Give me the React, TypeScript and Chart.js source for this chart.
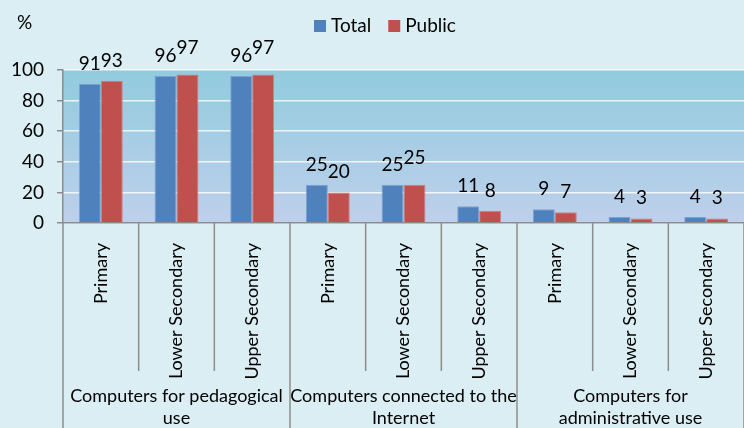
import React, { useEffect, useRef } from "react";
import { Chart, registerables } from "chart.js";

Chart.register(...registerables);

const levelLabels = [
  "Primary", "Lower Secondary", "Upper Secondary",
  "Primary", "Lower Secondary", "Upper Secondary",
  "Primary", "Lower Secondary", "Upper Secondary",
];
const groupLabels = [
  ["Computers for pedagogical", "use"],
  ["Computers connected to the", "Internet"],
  ["Computers for", "administrative use"],
];
const seriesNames = ["Total", "Public"];
const totalValues = [91, 96, 96, 25, 25, 11, 9, 4, 4];
const publicValues = [93, 97, 97, 20, 25, 8, 7, 3, 3];
const yMin = 0;
const yMax = 100;
const yStep = 20;
const unitLabel = "%";

const FONT = "Lato";
const BG = "#DBEEF4";
const AXIS = "#8C8C8C";
const COLORS = ["#4F81BD", "#C0504D"];
const BORDERS = ["#7EA2CF", "#D27D7B"];

const decorPlugin = {
  id: "decor",
  beforeDraw(chart: any) {
    const { ctx, chartArea } = chart;
    ctx.save();
    ctx.fillStyle = BG;
    ctx.fillRect(0, 0, chart.width, chart.height);
    const g = ctx.createLinearGradient(0, chartArea.top, 0, chartArea.bottom);
    g.addColorStop(0, "#92CBDE");
    g.addColorStop(1, "#BED0EB");
    ctx.fillStyle = g;
    ctx.fillRect(chartArea.left, chartArea.top, chartArea.right - chartArea.left, chartArea.bottom - chartArea.top);
    ctx.restore();
  },
  afterDatasetsDraw(chart: any) {
    const { ctx } = chart;
    ctx.save();
    ctx.font = `19px ${FONT}`;
    ctx.fillStyle = "#000";
    ctx.textAlign = "center";
    ctx.textBaseline = "alphabetic";
    const m0 = chart.getDatasetMeta(0);
    const m1 = chart.getDatasetMeta(1);
    const d0 = chart.data.datasets[0].data;
    const d1 = chart.data.datasets[1].data;
    for (let i = 0; i < m0.data.length; i++) {
      const b0 = m0.data[i];
      const b1 = m1.data[i];
      const t0 = String(d0[i]);
      const t1 = String(d1[i]);
      const y0 = b0.y - 14;
      let y1 = b1.y - 14;
      const w0 = ctx.measureText(t0);
      const w1 = ctx.measureText(t1);
      const r0 = b0.x + w0.actualBoundingBoxRight;
      const l1 = b1.x - w1.actualBoundingBoxLeft;
      if (l1 - r0 < 4 && Math.abs(b0.y - b1.y) < 2.5) y1 -= 7;
      ctx.fillText(t0, b0.x, y0);
      ctx.fillText(t1, b1.x, y1);
    }
    ctx.restore();
  },
  afterDraw(chart: any) {
    const { ctx } = chart;
    const xs = chart.scales.x;
    const n = levelLabels.length;
    const w = (xs.right - xs.left) / n;
    ctx.save();
    ctx.strokeStyle = AXIS;
    ctx.lineWidth = 1.5;
    for (let i = 0; i <= n; i++) {
      const x = xs.left + i * w;
      ctx.beginPath();
      ctx.moveTo(x, xs.top);
      ctx.lineTo(x, i % 3 === 0 ? chart.height : xs.top + 148);
      ctx.stroke();
    }
    ctx.fillStyle = "#000";
    ctx.font = `18px ${FONT}`;
    ctx.textAlign = "center";
    ctx.textBaseline = "middle";
    groupLabels.forEach((lines, g) => {
      const cx = xs.left + (g * 3 + 1.5) * w;
      lines.forEach((t, k) => ctx.fillText(t, cx, xs.top + 173 + k * 22));
    });
    // unit label
    ctx.textAlign = "left";
    ctx.font = `19px ${FONT}`;
    ctx.fillText(unitLabel, 17, 23);
    // legend
    let x = 314;
    chart.data.datasets.forEach((ds: any, k: number) => {
      ctx.fillStyle = COLORS[k];
      ctx.fillRect(x, 20, 12, 12);
      ctx.fillStyle = "#000";
      ctx.fillText(ds.label, x + 17, 26);
      x += 17 + ctx.measureText(ds.label).width + 17;
    });
    ctx.restore();
  },
};

export default function App() {
  const ref = useRef<HTMLCanvasElement>(null);
  useEffect(() => {
    if (!ref.current) return;
    const chart = new Chart(ref.current, {
      type: "bar",
      data: {
        labels: levelLabels,
        datasets: [
          { label: seriesNames[0], data: totalValues, backgroundColor: COLORS[0], borderColor: BORDERS[0], borderWidth: 1 },
          { label: seriesNames[1], data: publicValues, backgroundColor: COLORS[1], borderColor: BORDERS[1], borderWidth: 1 },
        ],
      },
      options: {
        responsive: false,
        devicePixelRatio: 1,
        animation: false,
        layout: { padding: { top: 70, right: -3, left: 0, bottom: 0 } },
        datasets: { bar: { categoryPercentage: 0.58, barPercentage: 1 } },
        plugins: { legend: { display: false }, tooltip: { enabled: false } },
        scales: {
          x: {
            ticks: {
              minRotation: 90, maxRotation: 90, autoSkip: false,
              font: { family: FONT, size: 18 }, color: "#000", padding: 12,
            },
            grid: { display: false },
            border: { display: true, color: AXIS, width: 1.5 },
            afterFit: (s: any) => { s.height = 205; },
          },
          y: {
            min: yMin, max: yMax,
            ticks: { stepSize: yStep, font: { family: FONT, size: 19 }, color: "#000", padding: 13 },
            grid: { color: "rgba(255,255,255,0.8)", lineWidth: 1.5, tickLength: 6, tickColor: AXIS, drawTicks: true },
            border: { display: true, color: AXIS, width: 1.5 },
            afterFit: (s: any) => { s.width = 63; },
          },
        },
      },
      plugins: [decorPlugin],
    });
    return () => chart.destroy();
  }, []);
  return (
    <div style={{ position: "absolute", left: 0, top: 0, width: 744, height: 428, background: BG }}>
      <canvas ref={ref} width={744} height={428} />
    </div>
  );
}
